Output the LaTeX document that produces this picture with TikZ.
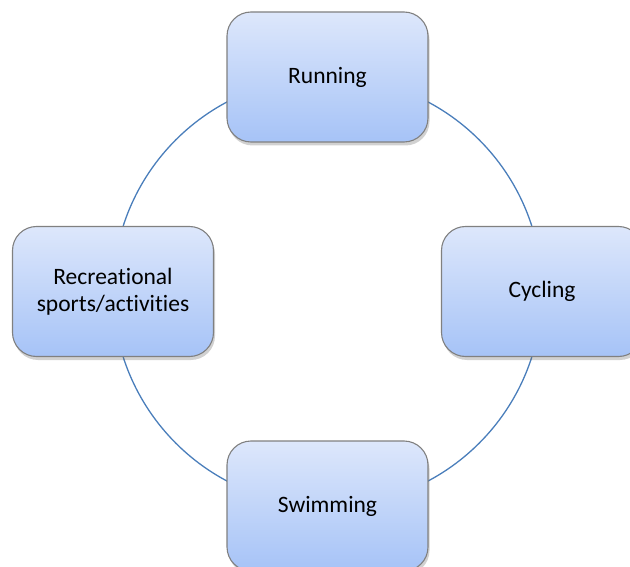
\documentclass[tikz,border=0pt]{standalone}
\usepackage{fontspec}
\setmainfont[Ligatures={NoCommon}]{Carlito}
\usetikzlibrary{shadows}
\definecolor{ringblue}{HTML}{4A7EBB}
\definecolor{boxtop}{HTML}{DDE7FB}
\definecolor{boxbot}{HTML}{A6C3F7}
\definecolor{boxline}{HTML}{808080}
\tikzset{
  stagebox/.style={draw=boxline, line width=1.1pt, rounded corners=24pt,
    top color=boxtop, bottom color=boxbot,
    minimum width=201pt, minimum height=130pt, align=center,
    font=\fontsize{23.5}{27}\selectfont, text=black,
    drop shadow={shadow xshift=1.5pt, shadow yshift=-3.5pt, opacity=0.3, fill=black!60}},
  ring/.style={draw=ringblue, line width=1.3pt}
}
\begin{document}
\begin{tikzpicture}[x=1pt,y=-1pt]
\useasboundingbox (0,0) rectangle (630,567);
\coordinate (c) at (327.5,291.5);
\draw[ring] (c) circle[radius=214.5pt];
\node[stagebox] (run) at (327.5,77) {Running};
\node[stagebox] (cyc) at (542,291.5) {Cycling};
\node[stagebox] (swim) at (327.5,506) {Swimming};
\node[stagebox] (rec) at (113,291.5) {Recreational\\sports/activities};
\end{tikzpicture}
\end{document}
